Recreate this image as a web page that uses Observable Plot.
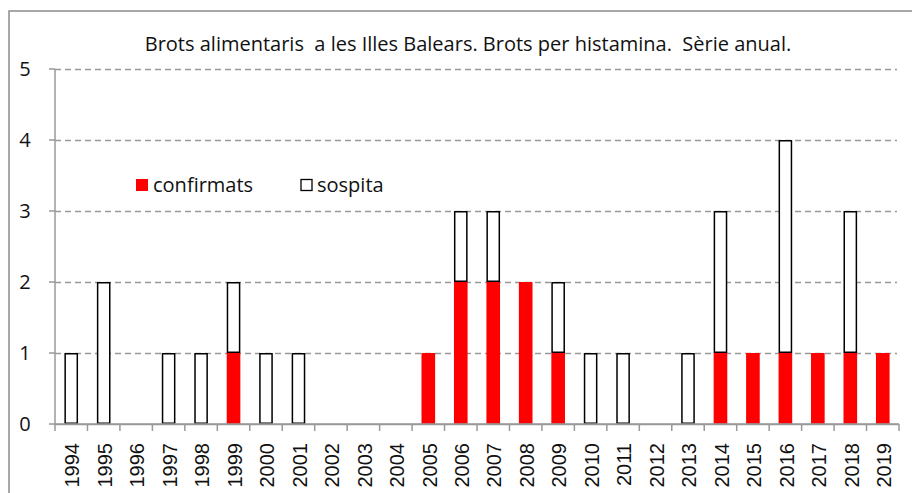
<!DOCTYPE html>
<html>
<head>
<meta charset="utf-8">
<script src="https://cdn.jsdelivr.net/npm/d3@7"></script>
<script src="https://cdn.jsdelivr.net/npm/@observablehq/plot@0.6"></script>
<style>
  html, body { margin: 0; padding: 0; background: #fff; }
  #chart { width: 912px; height: 493px; overflow: hidden; }
</style>
</head>
<body>
<div id="chart"></div>
<script>
const title = "Brots alimentaris  a les Illes Balears. Brots per histamina.  Sèrie anual.";
const years = ["1994","1995","1996","1997","1998","1999","2000","2001","2002","2003","2004","2005","2006","2007","2008","2009","2010","2011","2012","2013","2014","2015","2016","2017","2018","2019"];
const confirmats = [0,0,0,0,0,1,0,0,0,0,0,1,2,2,2,1,0,0,0,0,1,1,1,1,1,1];
const sospita    = [1,2,0,1,1,1,1,1,0,0,0,0,1,1,0,1,1,1,0,1,2,0,3,0,2,0];
const seriesNames = ["confirmats", "sospita"];
const yTicks = [0,1,2,3,4,5];

const confData = years.map((y, i) => ({year: y, y1: 0, y2: confirmats[i]})).filter(d => d.y2 > 0);
const sospData = years.map((y, i) => ({year: y, y1: confirmats[i], y2: confirmats[i] + sospita[i]})).filter(d => d.y2 > d.y1);

const FONT = "Open Sans, Noto Sans, sans-serif";

const plot = Plot.plot({
  width: 912,
  height: 493,
  marginTop: 69,
  marginLeft: 55,
  marginRight: 13,
  marginBottom: 69,
  style: {background: "white", overflow: "visible"},
  x: {domain: years, paddingInner: 0.58, paddingOuter: 0.29, round: false, axis: null},
  y: {domain: [0, 5], axis: null},
  marks: [
    Plot.ruleY(yTicks.filter(t => t > 0), {stroke: "#999", strokeWidth: 1.5, strokeDasharray: "6,4", insetRight: 2}),
    Plot.barY(confData, {x: "year", y1: "y1", y2: "y2", fill: "#ff0000"}),
    Plot.barY(sospData, {x: "year", y1: "y1", y2: "y2", fill: "white", stroke: "black", strokeWidth: 1.5, inset: 0.75}),
    Plot.ruleY([0], {stroke: "#999", strokeWidth: 1.5})
  ]
});

const svg = d3.select(plot);
const xs = plot.scale("x");
const ys = plot.scale("y");
const step = xs.step;
const bw = xs.bandwidth;
const x0 = xs.apply(years[0]) - (step - bw) / 2;
const xEnd = x0 + step * years.length;
const yTop = ys.apply(5), yBot = ys.apply(0);

// outer frame
svg.append("rect").attr("x", 9).attr("y", 11).attr("width", 940).attr("height", 520)
  .attr("fill", "none").attr("stroke", "#8c8c8c").attr("stroke-width", 1.5);

// y axis line and ticks
const g = svg.append("g");
g.append("line").attr("x1", x0).attr("x2", x0).attr("y1", yTop).attr("y2", yBot)
  .attr("stroke", "#999").attr("stroke-width", 1.5);
yTicks.forEach(t => {
  const yy = ys.apply(t);
  g.append("line").attr("x1", x0 - 6).attr("x2", x0).attr("y1", yy).attr("y2", yy)
    .attr("stroke", "#999").attr("stroke-width", 1.5);
  g.append("text").attr("x", 25).attr("y", yy).attr("dy", "0.36em")
    .attr("text-anchor", "middle").attr("font-family", FONT)
    .attr("font-size", 20).attr("fill", "#111").text(t);
});

// x boundary ticks
for (let i = 0; i <= years.length; i++) {
  const xx = x0 + i * step;
  g.append("line").attr("x1", xx).attr("x2", xx).attr("y1", yBot).attr("y2", yBot + 7)
    .attr("stroke", "#999").attr("stroke-width", 1.5);
}
g.append("line").attr("x1", x0).attr("x2", xEnd).attr("y1", yBot).attr("y2", yBot)
  .attr("stroke", "#999").attr("stroke-width", 1.5);

// x labels rotated
years.forEach(y => {
  const xx = xs.apply(y) + bw / 2;
  g.append("text")
    .attr("transform", `translate(${xx + 1},${yBot + 19}) rotate(-90)`)
    .attr("text-anchor", "end").attr("dy", "0.36em")
    .attr("font-family", "Liberation Sans, Arial, sans-serif")
    .attr("font-size", 20).attr("fill", "#111").text(y);
});

// title
svg.append("text").attr("x", 468).attr("y", 44).attr("dy", "0.35em")
  .attr("text-anchor", "middle").attr("font-family", FONT)
  .attr("font-size", 20).attr("letter-spacing", "0").attr("fill", "#111").text(title);

// legend
const leg = svg.append("g");
leg.append("rect").attr("x", 136).attr("y", 179).attr("width", 12).attr("height", 12).attr("fill", "#ff0000");
leg.append("text").attr("x", 153).attr("y", 185).attr("dy", "0.35em").attr("text-anchor", "start")
  .attr("font-family", FONT).attr("font-size", 20).attr("fill", "#111").text(seriesNames[0]);
leg.append("rect").attr("x", 301).attr("y", 179.5).attr("width", 11).attr("height", 11)
  .attr("fill", "white").attr("stroke", "black").attr("stroke-width", 1.3);
leg.append("text").attr("x", 317).attr("y", 185).attr("dy", "0.35em").attr("text-anchor", "start")
  .attr("font-family", FONT).attr("font-size", 20).attr("fill", "#111").text(seriesNames[1]);

document.getElementById("chart").appendChild(plot);
</script>
</body>
</html>
